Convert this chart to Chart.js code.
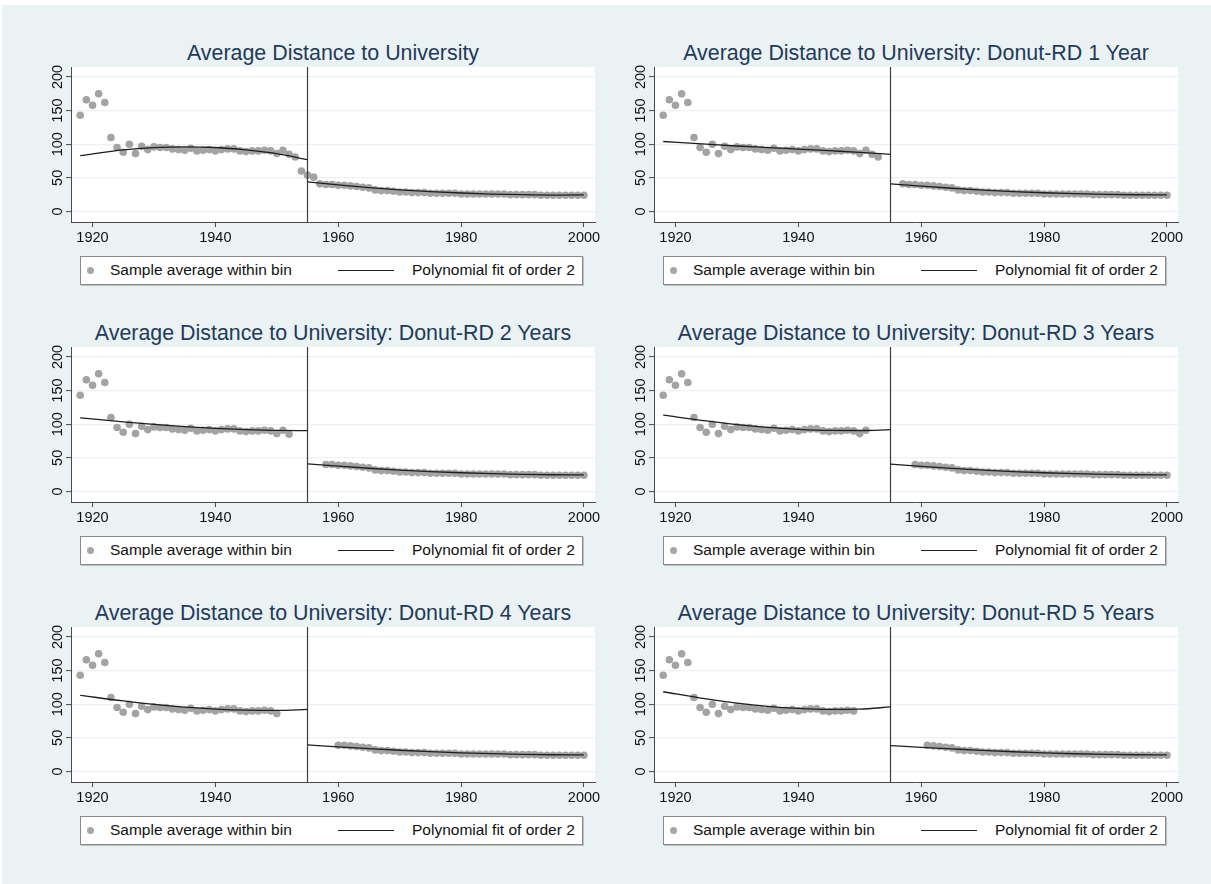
<!DOCTYPE html>
<html>
<head>
<meta charset="utf-8">
<script src="https://cdn.jsdelivr.net/npm/chart.js@4.4.1/dist/chart.umd.min.js"></script>
<style>
  html, body { margin: 0; padding: 0; }
  body { width: 1211px; height: 884px; background: #ffffff; position: relative; overflow: hidden;
         font-family: "Liberation Sans", Arial, sans-serif; }
  #bg { position: absolute; left: 2px; top: 5px; width: 1209px; height: 879px; background: #eaf2f3; }
  .panel-title { position: absolute; text-align: center; font-size: 21.4px; color: #1f3a5a; white-space: nowrap; line-height: 26px; }
  .legend { position: absolute; height: 27px; background: #ffffff; border: 1px solid #8a8a8a;
            box-shadow: 1px 1px 0 #b8c0c2; font-size: 15.5px; color: #111; line-height: 18px; }
  .legend .dot { position: absolute; left: 6px; top: 10px; width: 7px; height: 7px; border-radius: 50%; background: #a6a6a6; }
  .legend .t1 { position: absolute; left: 29px; top: 4px; }
  .legend .ln { position: absolute; left: 257px; top: 13px; width: 56px; height: 0; border-top: 1.3px solid #222; }
  .legend .t2 { position: absolute; left: 331px; top: 4px; }
  canvas { position: absolute; }
</style>
</head>
<body>
<div id="bg"></div>
<script>
// Birth-cohort bins and the sample average distance (km) within each bin
const years = [1918,1919,1920,1921,1922,1923,1924,1925,1926,1927,1928,1929,1930,1931,1932,1933,1934,1935,1936,1937,
  1938,1939,1940,1941,1942,1943,1944,1945,1946,1947,1948,1949,1950,1951,1952,1953,1954,1955,1956,1957,
  1958,1959,1960,1961,1962,1963,1964,1965,1966,1967,1968,1969,1970,1971,1972,1973,1974,1975,1976,1977,
  1978,1979,1980,1981,1982,1983,1984,1985,1986,1987,1988,1989,1990,1991,1992,1993,1994,1995,1996,1997,
  1998,1999,2000];
const distance = [143,166,158,175,162,110,95,88,100,86,97,92,96,95,95,93,92,91,94,90,
  91,92,90,92,93,93,90,89,90,90,91,90,86,91,85,81,60,54,51,41,
  40,40,39,39,38,37,36,35,32,31,31,30,29,29,28,28,28,27,27,27,
  27,27,26,26,26,26,26,26,26,26,25,25,25,25,25,24,24,24,24,24,
  24,24,24];

const cutoffYear = 1955;
// Donut width (years dropped on each side of the cutoff) for each panel
const donutYears = [0, 1, 2, 3, 4, 5];
const panelTitles = [
  "Average Distance to University",
  "Average Distance to University: Donut-RD 1 Year",
  "Average Distance to University: Donut-RD 2 Years",
  "Average Distance to University: Donut-RD 3 Years",
  "Average Distance to University: Donut-RD 4 Years",
  "Average Distance to University: Donut-RD 5 Years"
];

// Quadratic fit curves, read at these cohort years
const fitYearsLeft = [1918, 1925, 1930, 1935, 1940, 1945, 1950, 1955];
const fitYearsRight = [1955, 1960, 1965, 1970, 1975, 1980, 1985, 1990, 1995, 2000];
const fitLeft = [
  [83, 91.5, 94.9, 96, 95.1, 91.5, 85.9, 77],
  [104, 100, 97.3, 95, 92.8, 90.3, 87.8, 85],
  [109.5, 103.5, 99.6, 96.3, 93.7, 91.8, 90.7, 90.5],
  [113.5, 104.8, 99.5, 95.3, 92.4, 90.8, 90.6, 91.8],
  [113.2, 104.8, 99.7, 95.7, 92.8, 91.1, 90.7, 92.3],
  [118.5, 107.8, 101.5, 96.8, 93.8, 92.4, 92.7, 96]
];
const fitRight = [
  [44, 39.5, 35.5, 32.2, 29.5, 27.4, 25.9, 24.9, 24.4, 24.5],
  [41, 37.5, 34.5, 31.8, 29.6, 27.8, 26.4, 25.4, 24.8, 24.6],
  [41, 37.5, 34.5, 31.8, 29.6, 27.8, 26.4, 25.4, 24.8, 24.6],
  [40.5, 37.2, 34.3, 31.7, 29.5, 27.8, 26.4, 25.4, 24.8, 24.6],
  [39.5, 36.6, 33.9, 31.5, 29.4, 27.7, 26.4, 25.4, 24.8, 24.6],
  [38.5, 35.9, 33.5, 31.2, 29.3, 27.6, 26.3, 25.4, 24.8, 24.6]
];

const xTicks = [1920, 1940, 1960, 1980, 2000];
const yTicks = [0, 50, 100, 150, 200];
const xRange = [1916.5, 2001.8];
const yRange = [-15.7, 214.8];

// Panel geometry (plot region in page pixels)
const plotW = 524, plotH = 155;
const colLeft = [71, 654];
const rowTop = [67, 347, 627];
const padTop = 10, padRight = 10, yAxisW = 40, xAxisH = 30;

const axisColor = '#4a4a4a';
const gridColor = '#eaf2f3';
const pointColor = '#a3a3a3';
const fitColor = '#1e1e1e';

const plotBg = {
  id: 'plotBg',
  beforeDraw(chart) {
    const a = chart.chartArea, ctx = chart.ctx;
    ctx.save();
    ctx.fillStyle = '#ffffff';
    ctx.fillRect(a.left, a.top, a.right - a.left, a.bottom - a.top);
    ctx.restore();
  }
};

const tickFont = { family: '"Liberation Sans", Arial, sans-serif', size: 14.5 };

donutYears.forEach((k, i) => {
  const col = i % 2, row = Math.floor(i / 2);
  const L = colLeft[col], T = rowTop[row];

  const title = document.createElement('div');
  title.className = 'panel-title';
  title.style.left = L + 'px';
  title.style.width = plotW + 'px';
  title.style.top = (T - 27) + 'px';
  title.textContent = panelTitles[i];
  document.body.appendChild(title);

  const canvas = document.createElement('canvas');
  const cw = plotW + yAxisW + padRight, ch = plotH + padTop + xAxisH;
  canvas.width = cw; canvas.height = ch;
  canvas.style.left = (L - yAxisW) + 'px';
  canvas.style.top = (T - padTop) + 'px';
  canvas.style.width = cw + 'px'; canvas.style.height = ch + 'px';
  document.body.appendChild(canvas);

  const kept = years.map((y, j) => ({ x: y, y: distance[j] }))
    .filter(p => k === 0 || Math.abs(p.x - cutoffYear) > k);

  new Chart(canvas.getContext('2d'), {
    type: 'scatter',
    data: {
      datasets: [
        {
          label: 'Sample average within bin',
          data: kept,
          pointRadius: 3.8,
          pointBackgroundColor: pointColor,
          pointBorderWidth: 0,
          showLine: false,
          order: 3
        },
        {
          label: 'Polynomial fit of order 2',
          data: fitYearsLeft.map((x, j) => ({ x, y: fitLeft[i][j] })),
          showLine: true, borderColor: fitColor, borderWidth: 1.3,
          pointRadius: 0, cubicInterpolationMode: 'monotone', order: 1
        },
        {
          label: 'fit right',
          data: fitYearsRight.map((x, j) => ({ x, y: fitRight[i][j] })),
          showLine: true, borderColor: fitColor, borderWidth: 1.3,
          pointRadius: 0, cubicInterpolationMode: 'monotone', order: 1
        },
        {
          label: 'cutoff',
          data: [{ x: cutoffYear, y: yRange[0] }, { x: cutoffYear, y: yRange[1] }],
          showLine: true, borderColor: '#3c3c3c', borderWidth: 1.2,
          pointRadius: 0, order: 2
        }
      ]
    },
    options: {
      responsive: false,
      devicePixelRatio: 1,
      animation: false,
      layout: { padding: { top: padTop, right: padRight, left: 0, bottom: 0 } },
      plugins: { legend: { display: false }, tooltip: { enabled: false }, title: { display: false } },
      scales: {
        x: {
          type: 'linear', min: xRange[0], max: xRange[1],
          afterBuildTicks: s => { s.ticks = xTicks.map(v => ({ value: v })); },
          afterFit: s => { s.height = xAxisH; },
          grid: { drawOnChartArea: false, tickColor: axisColor, tickLength: 5, tickWidth: 1 },
          border: { color: axisColor, width: 1 },
          ticks: { color: '#111', font: tickFont, padding: 2, maxRotation: 0, autoSkip: false,
                   callback: v => String(v) }
        },
        y: {
          type: 'linear', min: yRange[0], max: yRange[1],
          afterBuildTicks: s => { s.ticks = yTicks.map(v => ({ value: v })); },
          afterFit: s => { s.width = yAxisW; },
          grid: { color: gridColor, lineWidth: 1.2, tickColor: axisColor, tickLength: 5, tickWidth: 1 },
          border: { color: axisColor, width: 1 },
          ticks: { color: '#111', font: tickFont, padding: -4, minRotation: 90, maxRotation: 90,
                   crossAlign: 'center', autoSkip: false, callback: v => String(v) }
        }
      }
    },
    plugins: [plotBg]
  });

  const leg = document.createElement('div');
  leg.className = 'legend';
  leg.style.left = (L + 9) + 'px';
  leg.style.top = (T + 189) + 'px';
  leg.style.width = '501px';
  leg.innerHTML = '<span class="dot"></span><span class="t1">Sample average within bin</span>' +
                  '<span class="ln"></span><span class="t2">Polynomial fit of order 2</span>';
  document.body.appendChild(leg);
});
</script>
</body>
</html>
